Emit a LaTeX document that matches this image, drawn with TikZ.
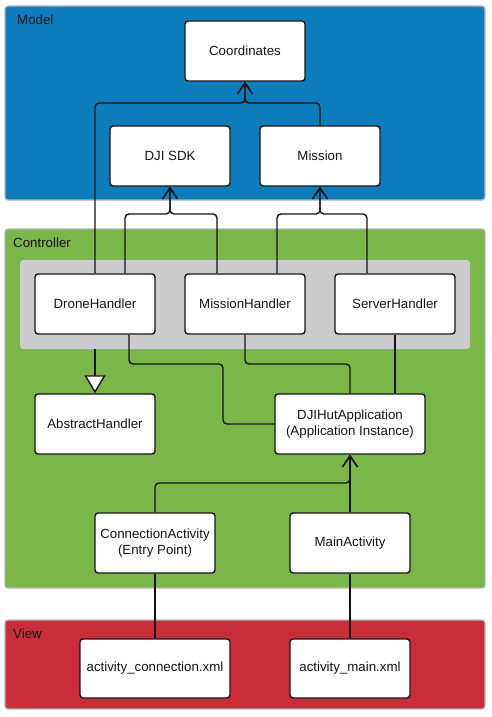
\documentclass[tikz,border=0pt]{standalone}
\usepackage{fontspec}
\setmainfont{Liberation Sans}
\usetikzlibrary{arrows.meta}
\definecolor{modelblue}{HTML}{0C7CBA}
\definecolor{ctrlgreen}{HTML}{7AB648}
\definecolor{viewred}{HTML}{C92D39}
\definecolor{grpgray}{HTML}{CCCCCC}
\definecolor{panelborder}{HTML}{B8B8B8}
\definecolor{ink}{HTML}{151515}
\begin{document}
\begin{tikzpicture}[x=1pt,y=-1pt,
  font=\fontsize{13.3}{16}\selectfont,
  panel/.style={draw=panelborder,line width=1.3pt,rounded corners=3pt},
  grp/.style={fill=grpgray,draw=none,rounded corners=3pt},
  cls/.style={draw=ink,fill=white,line width=1.4pt,rounded corners=3pt,
    minimum width=120pt,minimum height=60pt,inner sep=2pt,align=center,text=ink},
  conn/.style={draw=ink,line width=1.4pt,rounded corners=4pt},
  dep/.style={conn,-{Straight Barb[length=11pt,width=15pt,line width=1.4pt]}},
  gen/.style={draw=ink,line width=1.4pt,-{Triangle[open,length=18pt,width=21pt,fill=white,line width=1.4pt]}},
  plabel/.style={anchor=west,text=ink,inner sep=0pt}]
\useasboundingbox (0,0) rectangle (491,717);
\fill[white] (0,0) rectangle (491,717);
% panels
\draw[panel,fill=modelblue] (5,6) rectangle (485,200);
\draw[panel,fill=ctrlgreen] (5,229) rectangle (485,588);
\draw[panel,fill=viewred] (5,620) rectangle (485,709);
\node[plabel] (lm) at (17,20) {Model};
\node[plabel] (lc) at (13,243) {Controller};
\node[plabel] (lv) at (13,634) {View};
\node[grp,minimum width=450pt,minimum height=89pt,inner sep=0pt] (group) at (245,304.5) {};
% classes
\node[cls] (coord) at (245,51) {Coordinates};
\node[cls] (dji) at (170,156) {DJI SDK};
\node[cls] (mission) at (320,156) {Mission};
\node[cls] (dh) at (95,304) {DroneHandler};
\node[cls] (mh) at (245,304) {MissionHandler};
\node[cls] (sh) at (395,304) {ServerHandler};
\node[cls] (ah) at (95,424) {AbstractHandler};
\node[cls,minimum width=150pt] (app) at (350,424) {DJIHutApplication\\(Application Instance)};
\node[cls] (ca) at (155,543) {ConnectionActivity\\(Entry Point)};
\node[cls] (ma) at (350,543) {MainActivity};
\node[cls,minimum width=150pt,minimum height=59pt] (ac) at (155,668.5) {activity\_connection.xml};
\node[cls,minimum height=59pt] (am) at (350,668.5) {activity\_main.xml};
% junction points
\coordinate (jc) at (245,103);
\coordinate (jd) at (170,214);
\coordinate (jm) at (320,214);
\coordinate (k1) at (223,364);
\coordinate (k2) at (350,364);
\coordinate (ja) at (350,483);
% connectors
\draw[dep] (dh.north) |- (jc) -- (coord.south);
\draw[dep] (mission.north) |- (jc) -- (coord.south);
\draw[dep] ([xshift=30pt]dh.north) |- (jd) -- (dji.south);
\draw[dep] ([xshift=-28pt]mh.north) |- (jd) -- (dji.south);
\draw[dep] ([xshift=32pt]mh.north) |- (jm) -- (mission.south);
\draw[dep] ([xshift=-28pt]sh.north) |- (jm) -- (mission.south);
\draw[gen] (group.south -| ah.north) -- (ah.north);
\draw[conn] ([xshift=34pt]dh.south) |- (k1) |- (app.west);
\draw[conn] (mh.south) |- (k2) -- (app.north);
\draw[conn] (sh.south) -- (sh.south |- app.north);
\draw[dep] (ca.north) |- (ja) -- (app.south);
\draw[dep] (ma.north) -- (app.south);
\draw[conn] (ca.south) -- (ac.north);
\draw[conn] (ma.south) -- (am.north);
\end{tikzpicture}
\end{document}
